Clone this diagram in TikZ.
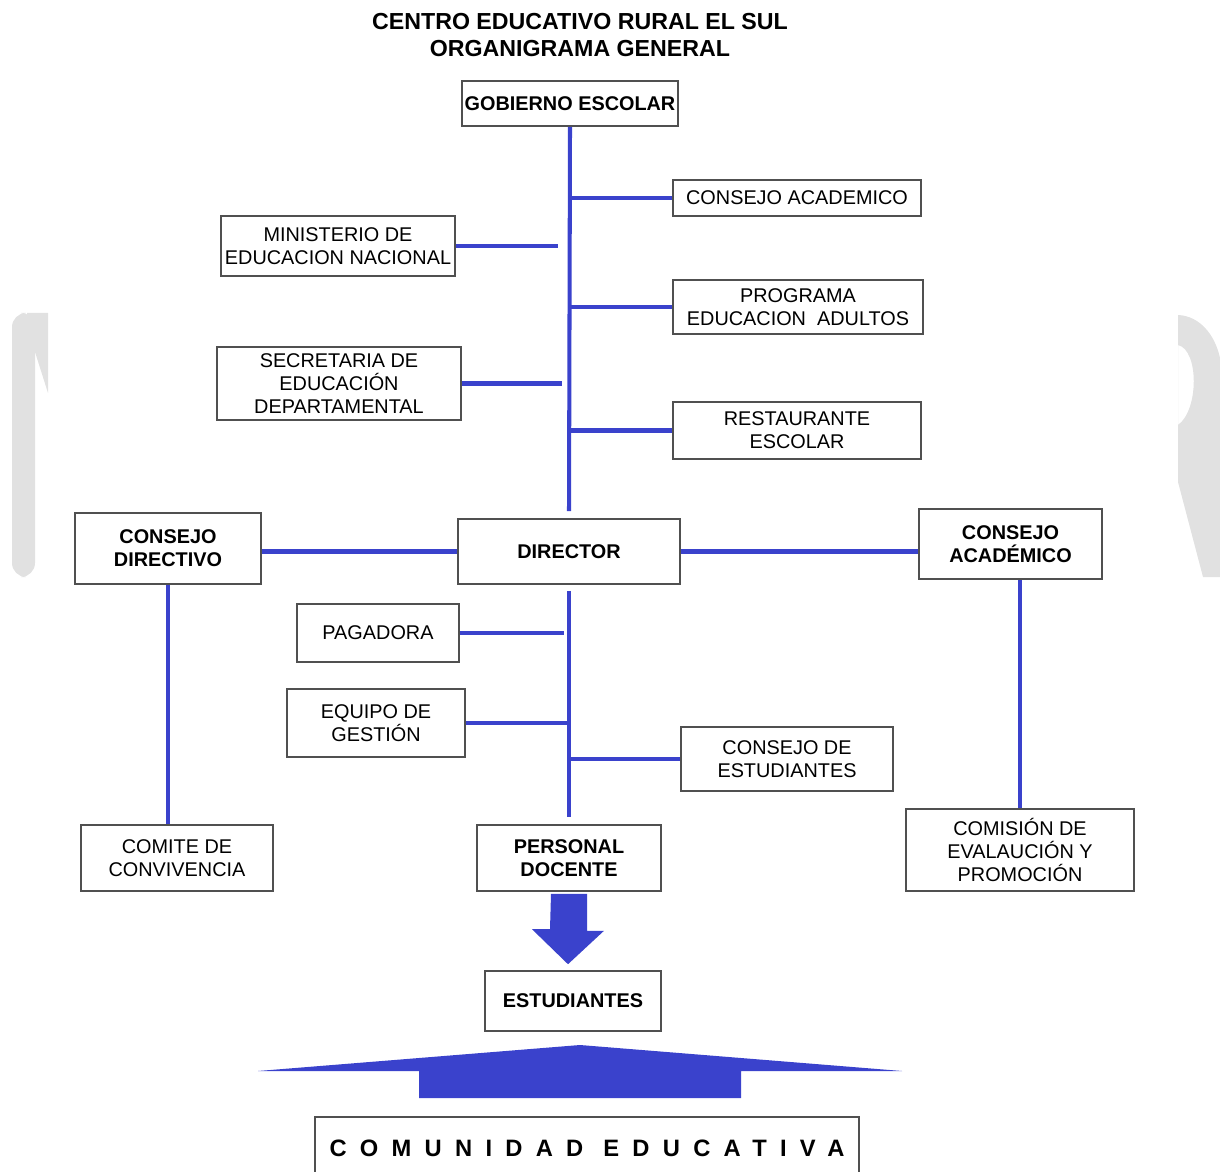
\documentclass[tikz,border=0pt]{standalone}
\usepackage{fontspec}
\setmainfont{Liberation Sans}
\usepackage{tikz}
\usetikzlibrary{calc}
\definecolor{orgblue}{RGB}{58,66,204}
\definecolor{boxline}{RGB}{80,80,80}
\definecolor{markgray}{RGB}{225,225,225}

\begin{document}
\begin{tikzpicture}
[
    x = 0.02cm, y = -0.02cm,
    box/.style = {draw = boxline, line width = 0.9pt, align = center, inner sep = 0pt,
        font = \fontsize{11.3}{13.1}\selectfont},
    headbox/.style = {box, font = \bfseries\fontsize{11.3}{13.1}\selectfont},
    sz/.style 2 args = {minimum width = #1*0.02cm, minimum height = #2*0.02cm},
    link/.style = {draw = orgblue, line width = 2.3pt},
    flow/.style = {fill = orgblue},
    wmark/.style = {fill = markgray},
]
    \useasboundingbox (0,0) rectangle (1220,1172);
    \clip (0,0) rectangle (1220,1172);

    % watermark letters at the edges
    \fill[wmark, rounded corners = 8] (12,313) rectangle (35,577);
    \fill[wmark] (27,313) -- (48,313) -- (48,393) -- (35,352) -- (27,352) -- cycle;
    \fill[wmark, even odd rule] (1178,315) .. controls (1200,316) and (1215,335) .. (1220,358)
        -- (1220,577) -- (1203,577) -- (1178,482) -- cycle
        (1178,345) .. controls (1199,350) and (1199,410) .. (1178,425) -- cycle;

    \node[align = center, font = \bfseries\fontsize{13.2}{15.9}\selectfont] (ttl) at (580,35)
        {CENTRO EDUCATIVO RURAL EL SUL\\ORGANIGRAMA GENERAL};

    \node[headbox, sz = {216}{45}] (gob) at (570,103.5) {GOBIERNO ESCOLAR};
    \node[box, sz = {248}{36}] (cacad) at (797,198) {CONSEJO ACADEMICO};
    \node[box, sz = {234}{60}] (min) at (338,246) {MINISTERIO DE\\EDUCACION NACIONAL};
    \node[box, sz = {250}{54}] (prog) at (798,307) {PROGRAMA\\EDUCACION\ \ ADULTOS};
    \node[box, sz = {244}{73}] (sec) at (339,383.5) {SECRETARIA DE\\EDUCACIÓN\\DEPARTAMENTAL};
    \node[box, sz = {248}{57}] (rest) at (797,430.5) {RESTAURANTE\\ESCOLAR};

    \node[headbox, sz = {186}{71}] (cdir) at (168,548.5) {CONSEJO\\DIRECTIVO};
    \node[headbox, sz = {222}{65}] (dir) at (569,551.5) {DIRECTOR};
    \node[headbox, sz = {183}{70}] (cacb) at (1010.5,544) {CONSEJO\\ACADÉMICO};

    \node[box, sz = {162}{58}] (pag) at (378,633) {PAGADORA};
    \node[box, sz = {178}{68}] (eq) at (376,723) {EQUIPO DE\\GESTIÓN};
    \node[box, sz = {212}{64}] (cest) at (787,759) {CONSEJO DE\\ESTUDIANTES};

    \node[box, sz = {192}{66}] (com) at (177,858) {COMITE DE\\CONVIVENCIA};
    \node[headbox, sz = {184}{66}] (pers) at (569,858) {PERSONAL\\DOCENTE};
    \node[box, sz = {228}{82}] (comis) at (1020,850) {COMISIÓN DE\\EVALAUCIÓN Y\\PROMOCIÓN};

    \node[headbox, sz = {176}{60}] (estu) at (573,1001) {ESTUDIANTES};
    \node[box, sz = {544}{62}] (comu) at (587,1148)
        {\bfseries\fontsize{13.5}{16}\selectfont\addfontfeature{LetterSpace=56}COMUNIDAD\kern0.4cm EDUCATIVA};

    \draw[link] (gob.south) -- ([yshift = 0.14cm]dir.north);
    \draw[link] (cacad.west) -- (cacad.west -| gob.south);
    \draw[link] (prog.west) -- (prog.west -| gob.south);
    \draw[link] (rest.west) -- (rest.west -| gob.south);
    \draw[link] (min.east) -- ++(102,0);
    \draw[link] (sec.east) -- ++(100,0);

    \draw[link] (dir.west) -- (dir.west -| cdir.east);
    \draw[link] (dir.east) -- (dir.east -| cacb.west);
    \draw[link] (cdir.south) -- (cdir.south |- com.north);
    \draw[link] (comis.north) -- (comis.north |- cacb.south);

    \draw[link] ([yshift = -0.12cm]dir.south) -- ([yshift = 0.14cm]pers.north -| dir.south);
    \draw[link] (pag.east) -- ++(104,0);
    \draw[link] (eq.east) -- (eq.east -| dir.south);
    \draw[link] (cest.west) -- (cest.west -| dir.south);

    \fill[flow] ($(pers.south)+(-18,2)$) -- ++(36,0) -- ++(0,37) -- ++(17,0)
        -- ($(estu.north)+(-5,-6)$) -- ++(-36,-35) -- ++(18,0) -- cycle;
    \fill[flow] (258,1071) -- (580,1045) -- (902,1071) -- (741,1071) -- (741,1098)
        -- (419,1098) -- (419,1071) -- cycle;
\end{tikzpicture}
\end{document}
